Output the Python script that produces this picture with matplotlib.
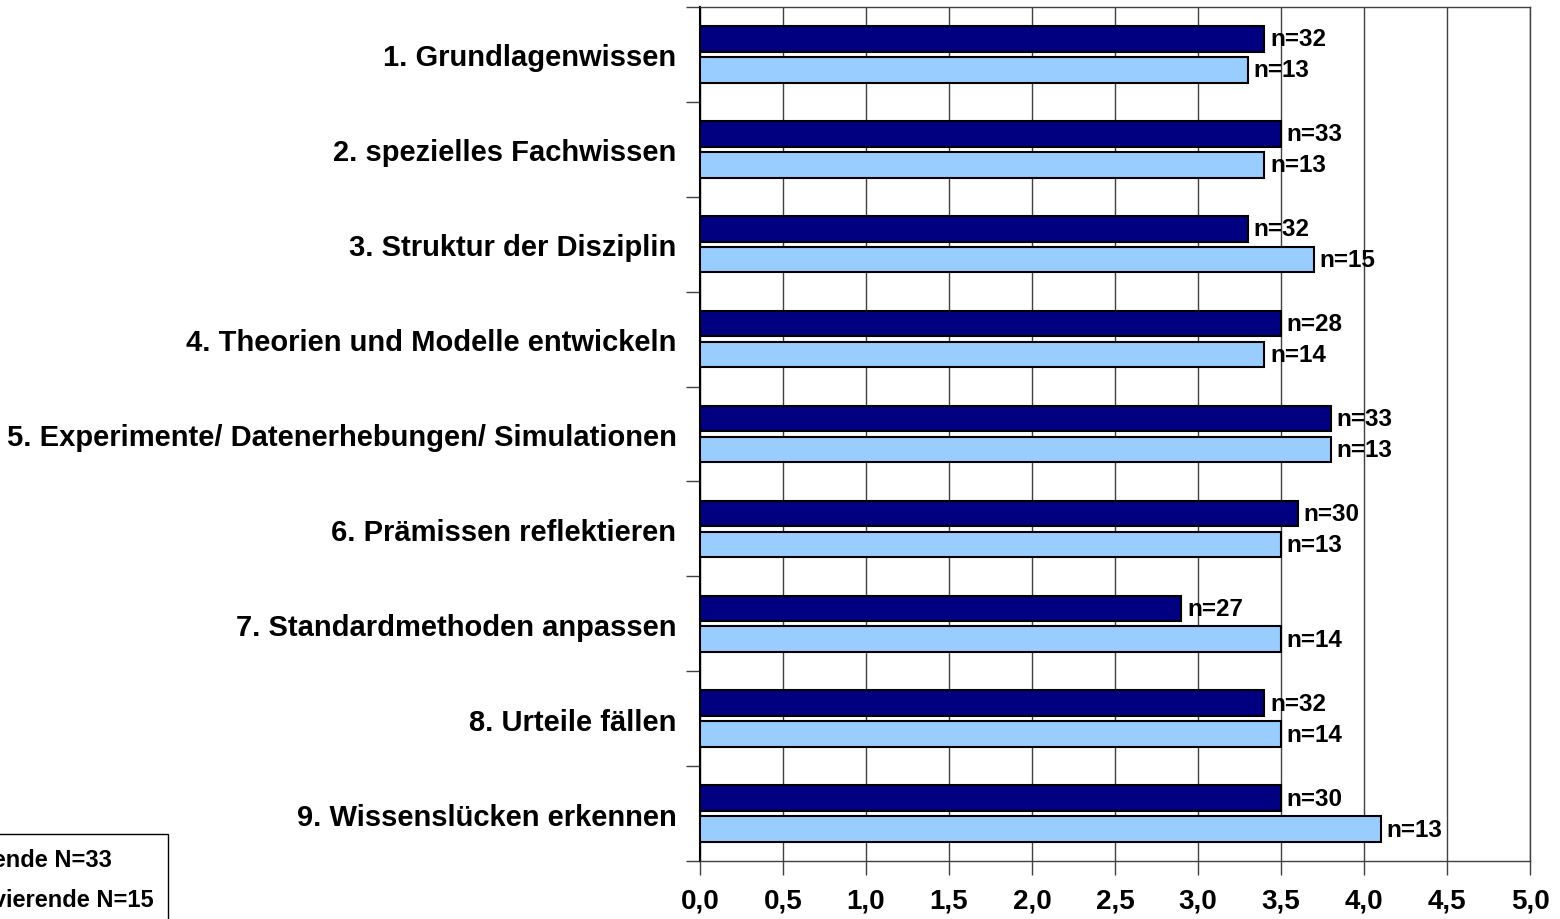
import matplotlib
matplotlib.use('Agg')
import matplotlib.pyplot as plt
import numpy as np

categories = [
    "1. Grundlagenwissen",
    "2. spezielles Fachwissen",
    "3. Struktur der Disziplin",
    "4. Theorien und Modelle entwickeln",
    "5. Experimente/ Datenerhebungen/ Simulationen",
    "6. Prämissen reflektieren",
    "7. Standardmethoden anpassen",
    "8. Urteile fällen",
    "9. Wissenslücken erkennen",
]
series_dark = [3.4, 3.5, 3.3, 3.5, 3.8, 3.6, 2.9, 3.4, 3.5]
series_light = [3.3, 3.4, 3.7, 3.4, 3.8, 3.5, 3.5, 3.5, 4.1]
n_dark = [32, 33, 32, 28, 33, 30, 27, 32, 30]
n_light = [13, 13, 15, 14, 13, 13, 14, 14, 13]
legend_labels = ["Betreuende N=33", "Promovierende N=15"]
xtick_values = [0.0, 0.5, 1.0, 1.5, 2.0, 2.5, 3.0, 3.5, 4.0, 4.5, 5.0]
xtick_labels = ["0,0", "0,5", "1,0", "1,5", "2,0", "2,5", "3,0", "3,5", "4,0", "4,5", "5,0"]

plt.rcParams['font.family'] = ['Liberation Sans', 'DejaVu Sans']
plt.rcParams['font.weight'] = 'bold'

W, H = 1560, 920
fig = plt.figure(figsize=(W / 100, H / 100), dpi=100)
ax = fig.add_axes([700 / W, 58 / H, 830 / W, 854 / H])

y = np.arange(len(categories))
h = 0.27
off = 0.163
b1 = ax.barh(y - off, series_dark, height=h, color='#000080', edgecolor='black',
             linewidth=1.5, zorder=3)
b2 = ax.barh(y + off, series_light, height=h, color='#99CCFF', edgecolor='black',
             linewidth=1.5, zorder=3)

for yy, v, n in zip(y - off, series_dark, n_dark):
    ax.annotate(f"n={n}", xy=(v, yy), xytext=(4, 0), textcoords='offset points',
                va='center', ha='left', fontsize=17.5, fontweight='bold', zorder=4)
for yy, v, n in zip(y + off, series_light, n_light):
    ax.annotate(f"n={n}", xy=(v, yy), xytext=(4, 0), textcoords='offset points',
                va='center', ha='left', fontsize=17.5, fontweight='bold', zorder=4)

ax.set_xlim(0, 5)
ax.set_ylim(len(categories) - 0.5, -0.5)

ax.set_xticks(xtick_values)
ax.set_xticklabels(xtick_labels, fontsize=20, fontweight='bold')
ax.tick_params(axis='x', direction='out', length=10, width=1, color='#404040', pad=9)

ax.set_yticks(y)
ax.set_yticklabels(categories, fontsize=21, fontweight='bold')
ax.set_yticks(np.arange(-0.5, len(categories), 1.0), minor=True)
ax.tick_params(axis='y', which='major', length=0, pad=17)
ax.tick_params(axis='y', which='minor', direction='out', length=10, width=1, color='#404040')

ax.grid(axis='x', color='#404040', linewidth=1, zorder=0)
ax.set_axisbelow(True)
for s in ['top', 'right', 'bottom']:
    ax.spines[s].set_color('#404040')
    ax.spines[s].set_linewidth(1)
ax.spines['left'].set_color('black')
ax.spines['left'].set_linewidth(1.5)

fig.legend([b1, b2], legend_labels, loc='upper right',
           bbox_to_anchor=(168 / W, 1 - 835 / H), frameon=True,
           fancybox=False, edgecolor='black', framealpha=1, borderpad=0.6,
           borderaxespad=0, labelspacing=0.7,
           prop={'weight': 'bold', 'size': 17})

fig.savefig('out.png', dpi=100)
